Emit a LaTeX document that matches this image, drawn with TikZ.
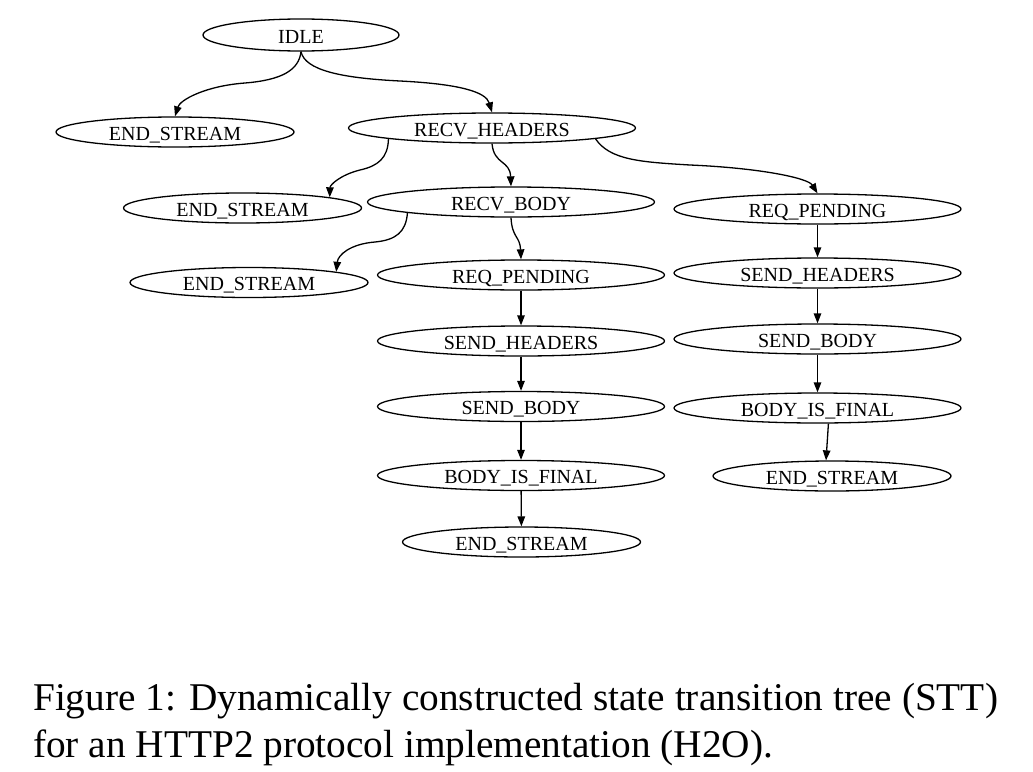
\documentclass[tikz,border=0pt]{standalone}
\usepackage{fontspec}
\setmainfont{Liberation Serif}
\usetikzlibrary{shapes.geometric,arrows.meta}
\begin{document}
\begin{tikzpicture}[x=1pt,y=-1pt,
  st/.style={ellipse, draw, line width=1.3pt, inner sep=0pt, minimum height=30pt, text height=16pt, text depth=0pt, font=\fontsize{20}{24}\selectfont},
  longst/.style={st, minimum width=287pt},
  endst/.style={st, minimum width=238pt},
  edge/.style={draw, line width=1.3pt, -{Triangle[length=10pt,width=7.5pt]}},
  captext/.style={anchor=base west, inner sep=0pt, font=\fontsize{39.3}{47}\selectfont}]
\useasboundingbox (0,0) rectangle (1033,771);
% nodes
\node[st, minimum width=196pt, minimum height=32pt] (idle) at (301,35) {IDLE};
\node[endst] (es1) at (175,132) {END\_STREAM};
\node[longst] (rh) at (492,128) {RECV\_HEADERS};
\node[endst] (es2) at (242.5,208) {END\_STREAM};
\node[longst] (rb) at (511,202) {RECV\_BODY};
\node[longst] (rpr) at (817.5,209) {REQ\_PENDING};
\node[endst] (es3) at (249,282.5) {END\_STREAM};
\node[longst] (rpm) at (521,275) {REQ\_PENDING};
\node[longst] (shr) at (817.5,273) {SEND\_HEADERS};
\node[longst] (shm) at (521,341) {SEND\_HEADERS};
\node[longst] (sbr) at (817.5,339) {SEND\_BODY};
\node[longst] (sbm) at (521,406.5) {SEND\_BODY};
\node[longst] (bfr) at (817.5,408) {BODY\_IS\_FINAL};
\node[longst] (bfm) at (521,475.5) {BODY\_IS\_FINAL};
\node[endst] (esr) at (832,476) {END\_STREAM};
\node[endst] (esm) at (521.5,542) {END\_STREAM};
% edges
\draw[edge] (idle.south) .. controls (299,70) and (282,80) .. (245,83) .. controls (205,86) and (180,100) .. (es1.north);
\draw[edge] (idle.south) .. controls (305,70) and (340,78) .. (400,81) .. controls (460,84) and (486,92) .. (rh.north);
\draw[edge] (rh.186) .. controls (388,158) and (378,166) .. (360,170) .. controls (340,175) and (330,185) .. (es2.7);
\draw[edge] (rh.south) .. controls (494,165) and (510,160) .. (rb.north);
\draw[edge] (rh.354) .. controls (610,160) and (640,162) .. (690,165) .. controls (760,168) and (808,178) .. (rpr.north);
\draw[edge] (rb.186) .. controls (406,232) and (396,240) .. (375,242) .. controls (350,244) and (338,255) .. (es3.7);
\draw[edge] (rb.south) .. controls (512,238) and (520,236) .. (rpm.north);
\draw[edge] (rpm) -- (shm);
\draw[edge] (shm) -- (sbm);
\draw[edge] (sbm) -- (bfm);
\draw[edge] (bfm) -- (esm);
\draw[edge] (rpr) -- (shr);
\draw[edge] (shr) -- (sbr);
\draw[edge] (sbr) -- (bfr);
\draw[edge] (bfr.305) -- (esr.111);
% caption
\node[captext] (cap1) at (33,710) {Figure 1: Dynamically constructed state transition tree (STT)};
\node[captext] (cap2) at (33,757) {for an HTTP2 protocol implementation (H2O).};
\end{tikzpicture}
\end{document}
